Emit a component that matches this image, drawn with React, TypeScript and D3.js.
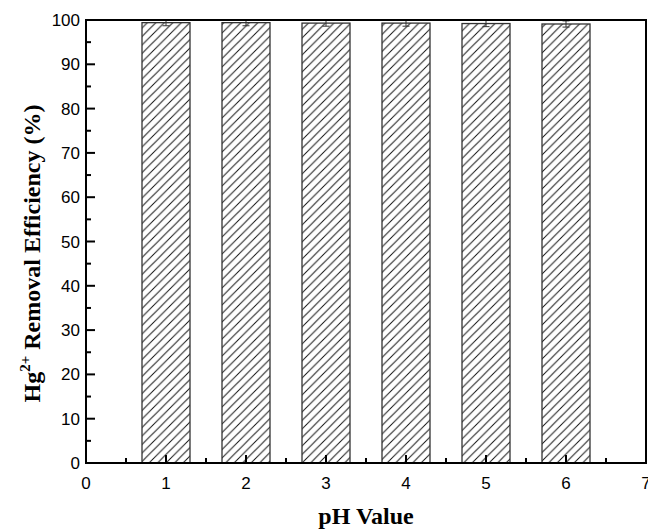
import React from "react";
import * as d3 from "d3";

// pH values tested and the measured Hg2+ removal efficiency (%)
const phValues = [1, 2, 3, 4, 5, 6];
const efficiency = [99.4, 99.4, 99.3, 99.3, 99.2, 99.1];
const errors = [0.7, 0.7, 0.7, 0.7, 0.7, 0.7];
const xTicks = [0, 1, 2, 3, 4, 5, 6, 7];
const yTicks = [0, 10, 20, 30, 40, 50, 60, 70, 80, 90, 100];

const W = 648;
const H = 530;
const margin = { left: 86, right: 2, top: 20, bottom: 67 };

export default function App() {
  const x = d3.scaleLinear().domain([0, 7]).range([margin.left, W - margin.right]);
  const y = d3.scaleLinear().domain([0, 100]).range([H - margin.bottom, margin.top]);
  const barW = x(0.6) - x(0);
  const x0 = x(0), x1 = x(7), y0 = y(0), y1 = y(100);
  const xMinor = d3.range(0.5, 7, 1);
  const yMinor = d3.range(5, 100, 10);

  return (
    <svg
      width={W}
      height={H}
      style={{ position: "absolute", left: 0, top: 0, background: "#fff" }}
    >
      <defs>
        <pattern id="hatch" width={8.5} height={8.5} patternUnits="userSpaceOnUse">
          <path d="M-1,9.5 L9.5,-1 M-2,2 L2,-2 M6.5,10.5 L10.5,6.5" stroke="#111" strokeWidth={1} />
        </pattern>
        <clipPath id="plot">
          <rect x={x0} y={y1} width={x1 - x0} height={y0 - y1} />
        </clipPath>
      </defs>

      <g clipPath="url(#plot)">
        {phValues.map((p, i) => (
          <rect
            key={p}
            x={x(p) - barW / 2}
            y={y(efficiency[i])}
            width={barW}
            height={y0 - y(efficiency[i])}
            fill="url(#hatch)"
            stroke="#333"
            strokeWidth={1.3}
          />
        ))}
        {phValues.map((p, i) => {
          const lo = y(efficiency[i] - errors[i]);
          const hi = y(efficiency[i] + errors[i]);
          const cx = x(p);
          return (
            <g key={"e" + p} stroke="#333" strokeWidth={1}>
              <line x1={cx} x2={cx} y1={lo} y2={hi} />
              <line x1={cx - 3.5} x2={cx + 3.5} y1={lo} y2={lo} />
              <line x1={cx - 3.5} x2={cx + 3.5} y1={hi} y2={hi} />
            </g>
          );
        })}
      </g>

      {/* frame */}
      <rect x={x0} y={y1} width={x1 - x0} height={y0 - y1} fill="none" stroke="#000" strokeWidth={2} />

      {/* x ticks (inward) */}
      {xTicks.map((t) => (
        <line key={"xt" + t} x1={x(t)} x2={x(t)} y1={y0} y2={y0 - 8} stroke="#000" strokeWidth={2} />
      ))}
      {xMinor.map((t) => (
        <line key={"xm" + t} x1={x(t)} x2={x(t)} y1={y0} y2={y0 - 5} stroke="#000" strokeWidth={2} />
      ))}
      {/* y ticks (inward) */}
      {yTicks.map((t) => (
        <line key={"yt" + t} x1={x0} x2={x0 + 9} y1={y(t)} y2={y(t)} stroke="#000" strokeWidth={2} />
      ))}
      {yMinor.map((t) => (
        <line key={"ym" + t} x1={x0} x2={x0 + 5} y1={y(t)} y2={y(t)} stroke="#000" strokeWidth={2} />
      ))}

      <g fontFamily="'Liberation Sans', Arial, sans-serif" fontSize={17} fill="#000">
        {xTicks.map((t) => (
          <text key={"xl" + t} x={x(t)} y={y0 + 26} textAnchor="middle">
            {t}
          </text>
        ))}
        {yTicks.map((t) => (
          <text key={"yl" + t} x={x0 - 6} y={y(t) + 6} textAnchor="end">
            {t}
          </text>
        ))}
      </g>

      <text
        x={(x0 + x1) / 2}
        y={524}
        textAnchor="middle"
        fontFamily="'Liberation Serif', 'Times New Roman', serif"
        fontWeight="bold"
        fontSize={24}
      >
        pH Value
      </text>
      <text
        transform={`translate(40, ${(y0 + y1) / 2 + 12}) rotate(-90)`}
        textAnchor="middle"
        fontFamily="'Liberation Serif', 'Times New Roman', serif"
        fontWeight="bold"
        fontSize={24}
      >
        Hg
        <tspan fontSize={15} dy={-10}>2+</tspan>
        <tspan dy={10}> Removal Efficiency (%)</tspan>
      </text>
    </svg>
  );
}
